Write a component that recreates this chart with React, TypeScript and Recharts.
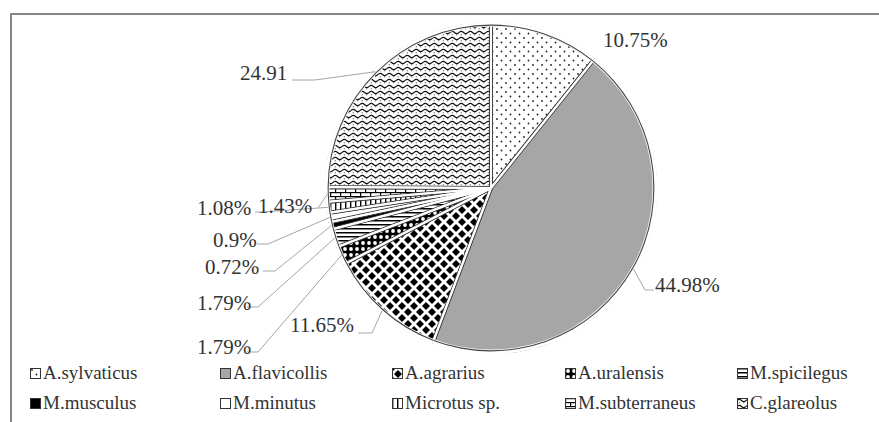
import React from "react";
import { PieChart, Pie, Cell } from "recharts";

const SPECIES = [
  "A.sylvaticus",
  "A.flavicollis",
  "A.agrarius",
  "A.uralensis",
  "M.spicilegus",
  "M.musculus",
  "M.minutus",
  "Microtus sp.",
  "M.subterraneus",
  "C.glareolus",
];
const SHARES = [10.75, 44.98, 11.65, 1.79, 1.79, 0.72, 0.9, 1.08, 1.43, 24.91];
const LABELS = ["10.75%", "44.98%", "11.65%", "1.79%", "1.79%", "0.72%", "0.9%", "1.08%", "1.43%", "24.91"];

const data = SPECIES.map((name, i) => ({ name, value: SHARES[i] }));

// label text position + leader elbow (layout only)
const LABEL_LAYOUT: { x: number; y: number; line?: number[][] }[] = [
  { x: 603, y: 40 },
  { x: 655, y: 285, line: [[654, 290], [645, 290]] },
  { x: 290, y: 325, line: [[358, 333], [372, 333]] },
  { x: 197, y: 347, line: [[247, 352], [258, 352]] },
  { x: 197, y: 303, line: [[247, 307], [258, 307]] },
  { x: 205, y: 267, line: [[263, 271], [275, 271]] },
  { x: 213, y: 240, line: [[257, 244], [268, 244]] },
  { x: 197, y: 208, line: [[255, 212], [262, 212]] },
  { x: 258, y: 206, line: [[318, 208]] },
  { x: 240, y: 73, line: [[292, 80], [315, 80]] },
];

const LEGEND_COLS = [30, 220, 392, 565, 737];
const LEGEND_ROWS = [373, 403];

const FONT = '"Times New Roman", "Liberation Serif", Times, serif';
const TEXT = "#333";
const CX = 491;
const CY = 188;
const R = 164;
const RAD = Math.PI / 180;

const Patterns = () => (
  <svg width={0} height={0} style={{ position: "absolute" }}>
    <defs>
      <pattern id="pat-0" width="9" height="9" patternUnits="userSpaceOnUse">
        <rect width="9" height="9" fill="#fff" />
        <circle cx="2" cy="2" r="0.9" fill="#222" />
        <circle cx="6.5" cy="6.5" r="0.9" fill="#222" />
      </pattern>
      <pattern id="pat-1" width="4" height="4" patternUnits="userSpaceOnUse">
        <rect width="4" height="4" fill="#a6a6a6" />
      </pattern>
      <pattern id="pat-2" width="12" height="12" patternUnits="userSpaceOnUse">
        <rect width="12" height="12" fill="#fff" />
        <path d="M6 2 L10 6 L6 10 L2 6Z" fill="#000" />
        <path d="M0 -4 L4 0 L0 4 L-4 0Z" fill="#000" />
        <path d="M12 -4 L16 0 L12 4 L8 0Z" fill="#000" />
        <path d="M0 8 L4 12 L0 16 L-4 12Z" fill="#000" />
        <path d="M12 8 L16 12 L12 16 L8 12Z" fill="#000" />
      </pattern>
      <pattern id="pat-3" width="6" height="6" patternUnits="userSpaceOnUse">
        <rect width="6" height="6" fill="#000" />
        <circle cx="3" cy="3" r="1.9" fill="#fff" />
      </pattern>
      <pattern id="pat-4" width="4" height="4" patternUnits="userSpaceOnUse">
        <rect width="4" height="4" fill="#fff" />
        <rect width="4" height="1.5" fill="#000" />
      </pattern>
      <pattern id="pat-5" width="4" height="4" patternUnits="userSpaceOnUse">
        <rect width="4" height="4" fill="#000" />
      </pattern>
      <pattern id="pat-6" width="4" height="4" patternUnits="userSpaceOnUse">
        <rect width="4" height="4" fill="#fff" />
      </pattern>
      <pattern id="pat-7" width="5" height="5" patternUnits="userSpaceOnUse">
        <rect width="5" height="5" fill="#fff" />
        <rect width="1.4" height="5" fill="#000" />
      </pattern>
      <pattern id="pat-8" width="10" height="8" patternUnits="userSpaceOnUse">
        <rect width="10" height="8" fill="#fff" />
        <rect width="10" height="1.2" fill="#000" />
        <rect y="4" width="10" height="1.2" fill="#000" />
        <rect width="1.2" height="4" fill="#000" />
        <rect x="5" y="4" width="1.2" height="4" fill="#000" />
      </pattern>
      <pattern id="pat-9" width="9" height="6" patternUnits="userSpaceOnUse">
        <rect width="9" height="6" fill="#fff" />
        <path d="M0 2.5 Q2.25 0.2 4.5 2.5 T9 2.5" stroke="#111" strokeWidth="1.1" fill="none" />
        <circle cx="2.25" cy="4.8" r="0.55" fill="#222" />
        <circle cx="6.75" cy="4.8" r="0.55" fill="#222" />
      </pattern>
    </defs>
  </svg>
);

const renderLabel = (props: any) => {
  const { cx, cy, midAngle, outerRadius, index } = props;
  const lay = LABEL_LAYOUT[index];
  const ax = cx + outerRadius * Math.cos(-midAngle * RAD);
  const ay = cy + outerRadius * Math.sin(-midAngle * RAD);
  const pts = lay.line ? [...lay.line, [ax, ay]] : null;
  return (
    <g key={`lbl-${index}`}>
      {pts && (
        <polyline
          points={pts.map((p) => p.join(",")).join(" ")}
          fill="none"
          stroke="#a6a6a6"
          strokeWidth={1}
        />
      )}
      <text
        x={lay.x}
        y={lay.y}
        textAnchor="start"
        dominantBaseline="central"
        fontFamily={FONT}
        fontSize={21}
        fill={TEXT}
      >
        {LABELS[index]}
      </text>
    </g>
  );
};

const NO_MARGIN = { top: 0, right: 0, bottom: 0, left: 0 };

export default function App() {
  return (
    <div
      style={{
        position: "absolute",
        left: 0,
        top: 0,
        width: 879,
        height: 422,
        overflow: "hidden",
        background: "#fff",
        fontFamily: FONT,
      }}
    >
      <Patterns />
      <div
        style={{
          position: "absolute",
          left: 10,
          top: 13,
          width: 900,
          height: 440,
          border: "2px solid #868686",
        }}
      />
      <div style={{ position: "absolute", left: 0, top: 0 }}>
        <PieChart width={879} height={422} margin={NO_MARGIN}>
          <Pie
            data={data}
            dataKey="value"
            cx={CX}
            cy={CY}
            outerRadius={R}
            startAngle={90}
            endAngle={-270}
            stroke="#444"
            strokeWidth={4}
            isAnimationActive={false}
          >
            {data.map((d, i) => (
              <Cell key={d.name} fill={`url(#pat-${i})`} stroke="#444" strokeWidth={4} />
            ))}
          </Pie>
          <Pie
            data={data}
            dataKey="value"
            cx={CX}
            cy={CY}
            outerRadius={R}
            startAngle={90}
            endAngle={-270}
            isAnimationActive={false}
            labelLine={false}
            label={renderLabel}
          >
            {data.map((d) => (
              <Cell key={d.name} fill="none" stroke="#fff" strokeWidth={2} />
            ))}
          </Pie>
          <Pie
            data={data}
            dataKey="value"
            cx={CX}
            cy={CY}
            innerRadius={R - 2.5}
            outerRadius={R + 2.5}
            startAngle={90}
            endAngle={-270}
            isAnimationActive={false}
          >
            {data.map((d) => (
              <Cell key={d.name} fill="#fff" stroke="none" />
            ))}
          </Pie>
          <Pie
            data={data}
            dataKey="value"
            cx={CX}
            cy={CY}
            innerRadius={R - 1.7}
            outerRadius={R - 0.6}
            startAngle={90}
            endAngle={-270}
            isAnimationActive={false}
          >
            {data.map((d) => (
              <Cell key={d.name} fill="#444" stroke="none" />
            ))}
          </Pie>
        </PieChart>
      </div>
      {SPECIES.map((name, i) => (
        <div
          key={name}
          style={{
            position: "absolute",
            left: LEGEND_COLS[i % 5],
            top: LEGEND_ROWS[Math.floor(i / 5)] - 12,
            height: 24,
            display: "flex",
            alignItems: "center",
            fontFamily: FONT,
            fontSize: 19,
            color: TEXT,
            whiteSpace: "nowrap",
          }}
        >
          <svg width={11} height={11} style={{ marginRight: 2 }}>
            <rect x={0.5} y={0.5} width={10} height={10} fill={`url(#pat-${i})`} stroke="#333" strokeWidth={1} />
          </svg>
          {name}
        </div>
      ))}
    </div>
  );
}
